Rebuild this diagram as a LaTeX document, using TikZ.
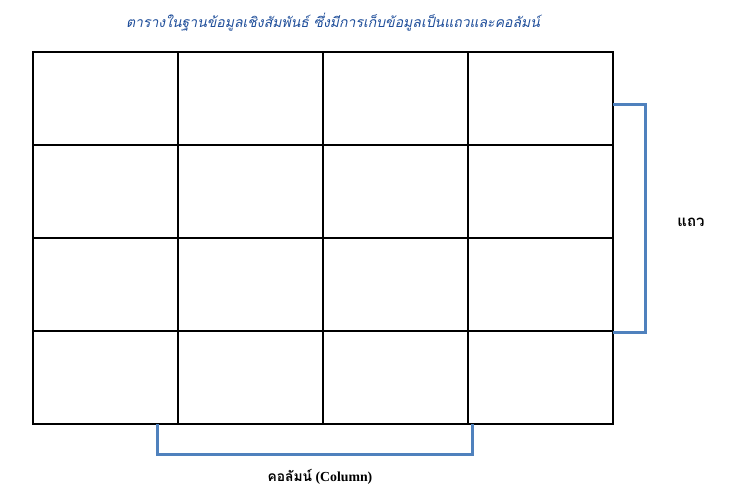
\documentclass[tikz,border=0pt]{standalone}
\usepackage{fontspec}
\setmainfont{Liberation Serif}
\newfontfamily\thaifont[Script=Thai]{Loma}
\definecolor{TitleBlue}{HTML}{1F4E9A}
\definecolor{BracketBlue}{HTML}{4F81BD}
\usetikzlibrary{positioning}

\begin{document}
\begin{tikzpicture}[x=1pt,y=-1pt,
    cellline/.style={line width=2pt,black},
    bracketline/.style={line width=3pt,BracketBlue}]
        \useasboundingbox (0,0) rectangle (730,500);
        % table
        \draw[cellline] (33,52) rectangle (613,424);
        \foreach \x in {178,323,468}
          \draw[cellline] (\x,52) -- (\x,424);
        \foreach \y in {145,238,331}
          \draw[cellline] (33,\y) -- (613,\y);
        % rows bracket
        \coordinate (rowtop) at (613,105);
        \coordinate (rowbot) at (613,332);
        \draw[bracketline] (rowtop) -- ++(32,0) |- (rowbot);
        \node[font=\thaifont\bfseries\fontsize{15}{17}\selectfont]
              (rowlabel) at (691,222) {แถว};
        % columns bracket
        \coordinate (colleft) at (157,424);
        \coordinate (colright) at (472,424);
        \draw[bracketline] (colleft) -- ++(0,30) -| (colright);
        \node[font=\bfseries\fontsize{13.8}{16}\selectfont]
              (collabel) at (320,477) {{\thaifont คอลัมน์} (Column)};
        % title
        \node[font=\thaifont\itshape\fontsize{14}{16}\selectfont,
              text=TitleBlue]
              (title) at (333,22)
              {ตารางในฐานข้อมูลเชิงสัมพันธ์ ซึ่งมีการเก็บข้อมูลเป็นแถวและคอลัมน์};
      \end{tikzpicture}
\end{document}
